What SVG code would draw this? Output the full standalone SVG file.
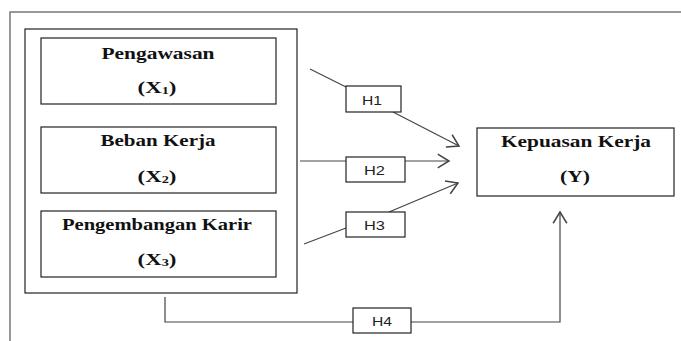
<svg xmlns="http://www.w3.org/2000/svg" width="681" height="341" viewBox="0 0 681 341">
<style>
.frame{fill:none;stroke:#777;stroke-width:1.5}
.box{fill:#fff;stroke:#222;stroke-width:1.2}
.lab{font-family:"Liberation Serif","Times New Roman","DejaVu Serif",serif;font-weight:bold;font-size:16px;fill:#111;text-anchor:middle}
.sub{font-size:10px}
.h{font-family:"Liberation Sans",Arial,sans-serif;font-size:13px;fill:#222;text-anchor:middle}
.conn{fill:none;stroke:#444;stroke-width:1.2}
</style>
<defs>
<marker id="arr" markerUnits="userSpaceOnUse" markerWidth="20" markerHeight="20" refX="0" refY="0" viewBox="-12 -8 14 16" orient="auto">
<path d="M-9,-5.5 L0,0 L-9,5.5" fill="none" stroke="#444" stroke-width="1.2"/>
</marker>
</defs>
<rect width="681" height="341" fill="#fff"/>
<path class="frame" d="M10,341 V12 H681"/>
<g id="container">
<rect class="box" x="25" y="29" width="272" height="264"/>
</g>
<g id="x1">
<rect class="box" x="41" y="38" width="235" height="66"/>
<text class="lab" x="158" y="59" textLength="113" lengthAdjust="spacingAndGlyphs">Pengawasan</text>
<text class="lab" x="157" y="93" textLength="39" lengthAdjust="spacingAndGlyphs">(X<tspan class="sub" dy="1">1</tspan><tspan dy="-1">)</tspan></text>
</g>
<g id="x2">
<rect class="box" x="41" y="127" width="235" height="66"/>
<text class="lab" x="158" y="146" textLength="115" lengthAdjust="spacingAndGlyphs">Beban Kerja</text>
<text class="lab" x="157" y="182" textLength="39" lengthAdjust="spacingAndGlyphs">(X<tspan class="sub" dy="1">2</tspan><tspan dy="-1">)</tspan></text>
</g>
<g id="x3">
<rect class="box" x="41" y="211" width="235" height="66"/>
<text class="lab" x="157" y="230" textLength="190" lengthAdjust="spacingAndGlyphs">Pengembangan Karir</text>
<text class="lab" x="157" y="265" textLength="39" lengthAdjust="spacingAndGlyphs">(X<tspan class="sub" dy="1">3</tspan><tspan dy="-1">)</tspan></text>
</g>
<g id="y">
<rect class="box" x="477" y="128" width="197" height="68"/>
<text class="lab" x="576" y="147" textLength="150" lengthAdjust="spacingAndGlyphs">Kepuasan Kerja</text>
<text class="lab" x="575" y="182" textLength="30" lengthAdjust="spacingAndGlyphs">(Y)</text>
</g>
<g id="connectors">
<path class="conn" d="M310,69 L346,87"/>
<path class="conn" d="M393,112 L459,146" marker-end="url(#arr)"/>
<path class="conn" d="M300,161 L346,161"/>
<path class="conn" d="M405,161 L449,161" marker-end="url(#arr)"/>
<path class="conn" d="M304,244 L346,228"/>
<path class="conn" d="M389,212 L458,183" marker-end="url(#arr)"/>
<path class="conn" d="M165,297 V322 H353"/>
<path class="conn" d="M411,322 H560 V212" marker-end="url(#arr)"/>
</g>
<g id="h1">
<rect class="box" x="346" y="86" width="55" height="26"/>
<text class="h" x="372" y="105" textLength="20" lengthAdjust="spacingAndGlyphs">H1</text>
</g>
<g id="h2">
<rect class="box" x="346" y="157" width="59" height="25"/>
<text class="h" x="374.5" y="175" textLength="21" lengthAdjust="spacingAndGlyphs">H2</text>
</g>
<g id="h3">
<rect class="box" x="346" y="212" width="59" height="25"/>
<text class="h" x="374.5" y="230" textLength="21" lengthAdjust="spacingAndGlyphs">H3</text>
</g>
<g id="h4">
<rect class="box" x="353" y="308" width="58" height="25"/>
<text class="h" x="382" y="326" textLength="20" lengthAdjust="spacingAndGlyphs">H4</text>
</g>
</svg>
